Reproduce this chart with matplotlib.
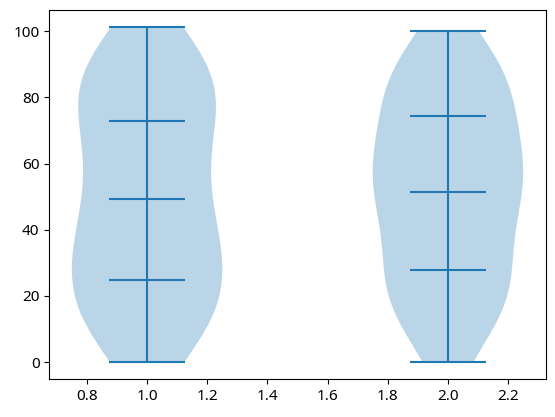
import matplotlib
matplotlib.use("Agg")
import matplotlib.pyplot as plt

plt.rcParams["font.family"] = ["Noto Sans", "DejaVu Sans"]
plt.rcParams["font.size"] = 11

positions = [1, 2]
quantile_levels = [0.25, 0.5, 0.75]

# sample values estimated from the violin outlines and quartile marks (41 each)
group_a = [0.0, 4.9, 7.6, 9.8, 11.7, 13.6, 15.4, 17.4, 19.5, 21.9,
           24.9, 26.7, 28.7, 30.8, 32.9, 35.1, 37.3, 39.5, 41.9, 44.6,
           49.35, 50.9, 52.8, 55.2, 58.7, 67.1, 68.9, 70.2, 71.2, 72.1,
           72.9, 81.5, 83.5, 85.0, 86.3, 87.6, 88.9, 90.3, 91.7, 93.6,
           101.3]
group_b = [0.0, 7.4, 10.8, 13.4, 15.7, 17.8, 19.8, 21.8, 23.8, 25.8,
           28.0, 30.2, 32.7, 36.0, 40.5, 43.8, 46.1, 47.8, 49.2, 50.4,
           51.5, 55.2, 57.3, 59.0, 60.6, 62.2, 63.8, 65.6, 67.5, 70.1,
           74.4, 77.5, 80.1, 82.3, 84.2, 85.9, 87.5, 89.1, 90.8, 93.0,
           100.0]

fig = plt.figure(figsize=(5.55, 4.17), dpi=100)
ax = fig.add_axes([49.3 / 555, 1 - 379 / 417, 496.4 / 555, 369 / 417])
ax.violinplot([group_a, group_b], positions=positions,
              quantiles=[quantile_levels, quantile_levels])

fig.savefig("out.png", dpi=100)
